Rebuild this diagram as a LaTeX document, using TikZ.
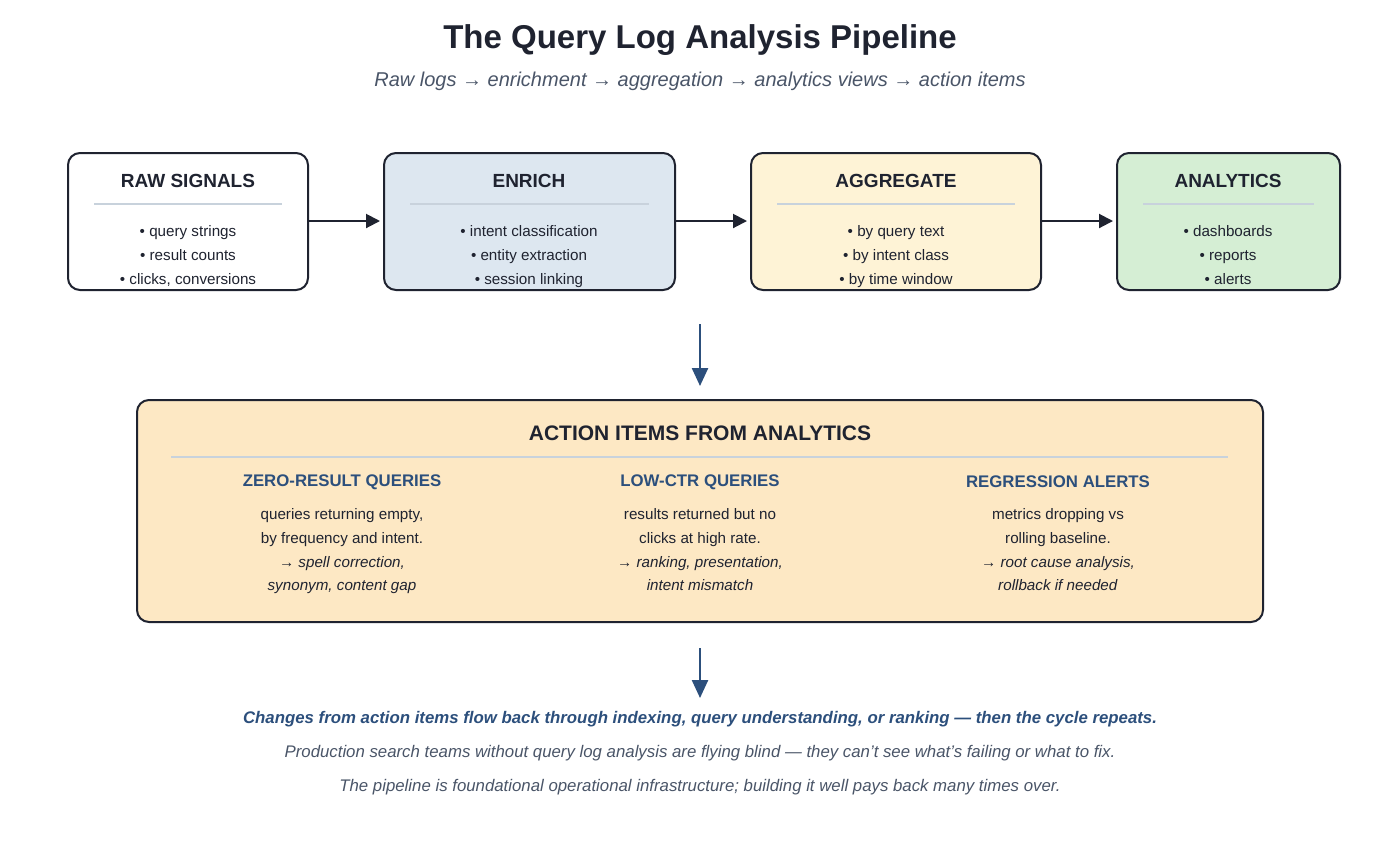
\documentclass[tikz,border=0pt]{standalone}
\usepackage{fontspec}
\setmainfont{Liberation Sans}
\usetikzlibrary{arrows.meta,positioning}
\definecolor{ink}{HTML}{1F2330}
\definecolor{navy}{HTML}{2C4F7C}
\definecolor{slate}{HTML}{4A5568}
\definecolor{rulegrey}{HTML}{C8D2DC}
\definecolor{enrichfill}{HTML}{DDE7F0}
\definecolor{aggfill}{HTML}{FEF3D6}
\definecolor{anafill}{HTML}{D5EED4}
\definecolor{actfill}{HTML}{FDE8C4}
\begin{document}
\begin{tikzpicture}[x=0.5pt,y=-0.5pt]
\tikzset{stage/.style={draw=ink,line width=1pt,rounded corners=6pt},
  head/.style={font=\bfseries\fontsize{9.5}{11}\selectfont,text=ink},
  item/.style={font=\fontsize{7.6}{9}\selectfont,text=ink,text height=1.6ex,text depth=.4ex,inner sep=0pt},
  colhead/.style={font=\bfseries\fontsize{8.4}{10}\selectfont,text=navy},
  flow/.style={-{Triangle[length=7pt,width=7pt]},line width=1pt,draw=ink},
  down/.style={-{Triangle[length=9pt,width=8pt]},line width=1.2pt,draw=navy}}
\useasboundingbox[fill=white] (0,0) rectangle (1400,853);
\node[font=\bfseries\fontsize{16.5}{19}\selectfont,text=ink] (title) at (700,40) {The Query Log Analysis Pipeline};
\node[font=\itshape\fontsize{10}{12}\selectfont,text=slate] (sub) at (700,81) {Raw logs → enrichment → aggregation → analytics views → action items};
% stages
\draw[stage,fill=white] (68,153) rectangle (308,290);
\draw[stage,fill=enrichfill] (384,153) rectangle (675,290);
\draw[stage,fill=aggfill] (751,153) rectangle (1041,290);
\draw[stage,fill=anafill] (1117,153) rectangle (1340,290);
\node[head] (raw) at (188,181) {RAW SIGNALS};
\node[head] (enr) at (529,181) {ENRICH};
\node[head] (agg) at (896,181) {AGGREGATE};
\node[head] (ana) at (1228,181) {ANALYTICS};
\foreach \a/\b in {94/282,410/649,777/1015,1143/1314}
  \draw[rulegrey,line width=1.2pt] (\a,204) -- (\b,204);
\foreach \x/\p/\q/\r [count=\i] in {188/query strings/result counts/{clicks, conversions},
  529/intent classification/entity extraction/session linking,
  896/by query text/by intent class/by time window,
  1228/dashboards/reports/alerts} {
  \node[item] (b\i a) at (\x,230) {•\ \p};
  \node[item] (b\i b) at (\x,254) {•\ \q};
  \node[item] (b\i c) at (\x,278) {•\ \r};
}
\coordinate (r1) at (308,221); \coordinate (l2) at (380,221);
\coordinate (r2) at (675,221); \coordinate (l3) at (747,221);
\coordinate (r3) at (1041,221); \coordinate (l4) at (1113,221);
\draw[flow] (r1) -- (l2);
\draw[flow] (r2) -- (l3);
\draw[flow] (r3) -- (l4);
\coordinate (d1) at (700,324); \coordinate (d2) at (700,386);
\draw[down] (d1) -- (d2);
% action items
\draw[stage,fill=actfill] (137,400) rectangle (1263,622);
\node[head,font=\bfseries\fontsize{10.5}{12}\selectfont] (act) at (700,433) {ACTION ITEMS FROM ANALYTICS};
\draw[rulegrey,line width=1.2pt] (171,457) -- (1228,457);
\foreach \x/\h/\p/\q/\r/\s [count=\i] in {342/ZERO-RESULT QUERIES/{queries returning empty,}/by frequency and intent./{spell correction,}/{synonym, content gap},
  700/LOW-CTR QUERIES/results returned but no/clicks at high rate./{ranking, presentation,}/intent mismatch,
  1058/REGRESSION ALERTS/metrics dropping vs/rolling baseline./{root cause analysis,}/rollback if needed} {
  \node[colhead] (c\i) at (\x,482) {\h};
  \node[item] (c\i a) at (\x,513) {\p};
  \node[item] (c\i b) at (\x,537) {\q};
  \node[item] (c\i c) at (\x,561) {→ \textit{\r}};
  \node[item] (c\i d) at (\x,584) {\textit{\s}};
}
\coordinate (e1) at (700,648); \coordinate (e2) at (700,698);
\draw[down] (e1) -- (e2);
\node[font=\bfseries\itshape\fontsize{8.4}{10}\selectfont,text=navy] (f1) at (700,719) {Changes from action items flow back through indexing, query understanding, or ranking — then the cycle repeats.};
\node[font=\itshape\fontsize{8.4}{10}\selectfont,text=slate] (f2) at (700,753) {Production search teams without query log analysis are flying blind — they can't see what's failing or what to fix.};
\node[font=\itshape\fontsize{8.4}{10}\selectfont,text=slate] (f3) at (700,787) {The pipeline is foundational operational infrastructure; building it well pays back many times over.};
\end{tikzpicture}
\end{document}
